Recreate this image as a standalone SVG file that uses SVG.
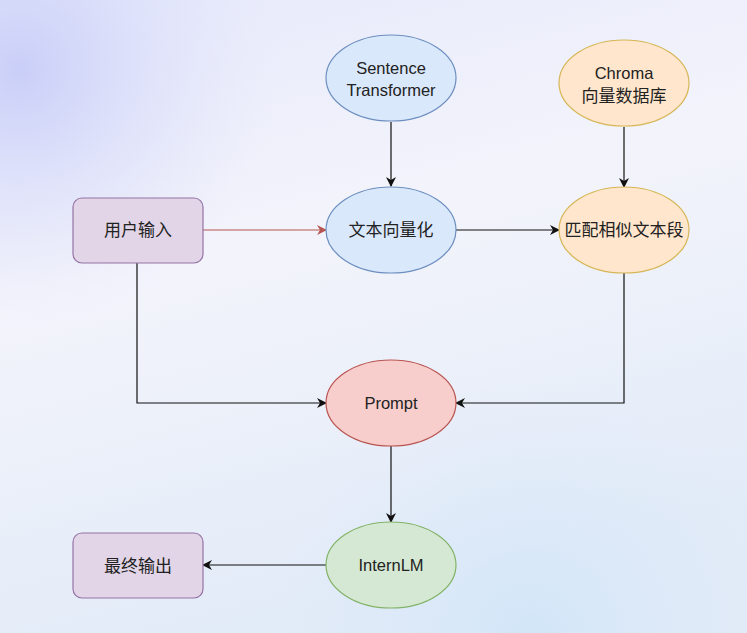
<svg xmlns="http://www.w3.org/2000/svg" width="747" height="633" viewBox="0 0 747 633">
<defs>
<linearGradient id="bg" x1="0" y1="0" x2="0.3" y2="1">
<stop offset="0" stop-color="#e6e9fb"/>
<stop offset="0.45" stop-color="#f3f4fb"/>
<stop offset="1" stop-color="#e2ebf8"/>
</linearGradient>
<radialGradient id="tl" cx="20" cy="70" r="260" gradientUnits="userSpaceOnUse">
<stop offset="0" stop-color="#c6cbf8" stop-opacity="0.9"/>
<stop offset="1" stop-color="#dfe3fa" stop-opacity="0"/>
</radialGradient>
<radialGradient id="bl" cx="530" cy="640" r="260" gradientUnits="userSpaceOnUse">
<stop offset="0" stop-color="#cfe5f8" stop-opacity="0.9"/>
<stop offset="1" stop-color="#dde9f8" stop-opacity="0"/>
</radialGradient>
<marker id="ah" viewBox="0 0 10 10" refX="9" refY="5" markerWidth="10" markerHeight="10" markerUnits="userSpaceOnUse" orient="auto">
<path d="M0,0 L10,5 L0,10 L3,5 Z" fill="#111"/>
</marker>
<marker id="ahr" viewBox="0 0 10 10" refX="9" refY="5" markerWidth="10" markerHeight="10" markerUnits="userSpaceOnUse" orient="auto">
<path d="M0,0 L10,5 L0,10 L3,5 Z" fill="#b85450"/>
</marker>
</defs>
<style>
.t{font-family:"Liberation Sans","Noto Sans CJK SC",Arial,sans-serif;font-size:16.5px;fill:#222;text-anchor:middle;dominant-baseline:central}
.c{font-size:17px}
.blue{fill:#dae8fc;stroke:#6c8ebf;stroke-width:1.2}
.orange{fill:#ffe6cc;stroke:#d6b656;stroke-width:1.2}
.red{fill:#f8cecc;stroke:#b85450;stroke-width:1.2}
.green{fill:#d5e8d4;stroke:#82b366;stroke-width:1.2}
.purple{fill:#e1d5e7;stroke:#9673a6;stroke-width:1.2}
.e{fill:none;stroke:#111;stroke-width:1.2;marker-end:url(#ah)}
.er{fill:none;stroke:#b85450;stroke-width:1.2;marker-end:url(#ahr)}
</style>
<rect width="747" height="633" fill="url(#bg)"/>
<rect width="747" height="633" fill="url(#tl)"/>
<rect width="747" height="633" fill="url(#bl)"/>
<g id="connectors">
<path class="e" d="M391,122 L391,186"/>
<path class="er" d="M203,230 L326,230"/>
<path class="e" d="M456,230 L559,230"/>
<path class="e" d="M624,127 L624,187"/>
<path class="e" d="M137,263 L137,403 L326,403"/>
<path class="e" d="M624,273 L624,403 L456,403"/>
<path class="e" d="M391,446 L391,522"/>
<path class="e" d="M326,565 L203,565"/>
</g>
<g id="sentence-transformer">
<ellipse class="blue" cx="391" cy="78" rx="65" ry="43"/>
<text class="t" x="391" y="68">Sentence</text>
<text class="t" x="391" y="90">Transformer</text>
</g>
<g id="chroma">
<ellipse class="orange" cx="624" cy="83" rx="65" ry="43"/>
<text class="t" x="624" y="73">Chroma</text>
<text class="t c" x="624" y="96">向量数据库</text>
</g>
<g id="user-input">
<rect class="purple" x="73" y="198" width="130" height="65" rx="9"/>
<text class="t c" x="138" y="230">用户输入</text>
</g>
<g id="vectorize">
<ellipse class="blue" cx="391" cy="230" rx="65" ry="43"/>
<text class="t c" x="391" y="230">文本向量化</text>
</g>
<g id="match">
<ellipse class="orange" cx="624" cy="230" rx="65" ry="43"/>
<text class="t c" x="624" y="230">匹配相似文本段</text>
</g>
<g id="prompt">
<ellipse class="red" cx="391" cy="403" rx="65" ry="43"/>
<text class="t" x="391" y="403">Prompt</text>
</g>
<g id="internlm">
<ellipse class="green" cx="391" cy="565" rx="65" ry="43"/>
<text class="t" x="391" y="565">InternLM</text>
</g>
<g id="final-output">
<rect class="purple" x="73" y="533" width="130" height="65" rx="9"/>
<text class="t c" x="138" y="566">最终输出</text>
</g>
</svg>
